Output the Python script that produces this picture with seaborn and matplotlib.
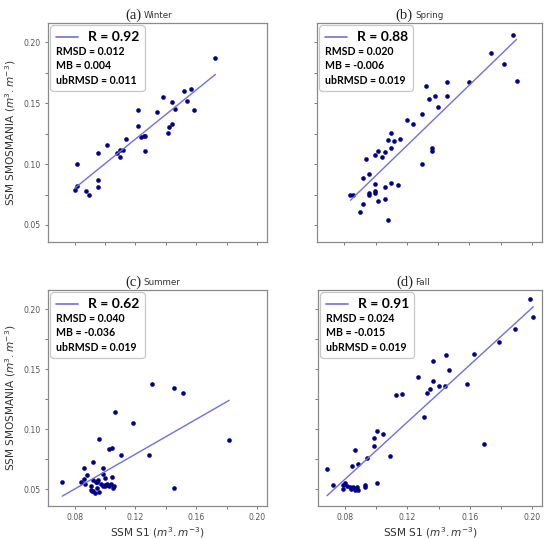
import numpy as np
import pandas as pd
import seaborn as sns
import matplotlib
matplotlib.use('Agg')
import matplotlib.pyplot as plt
from matplotlib.ticker import MultipleLocator, FuncFormatter
from matplotlib.offsetbox import AnchoredOffsetbox, VPacker, HPacker, TextArea, DrawingArea
from matplotlib.lines import Line2D

# values
winter_s1 = [0.0800, 0.0813, 0.0813, 0.0874, 0.0896, 0.0952, 0.0952, 0.0952, 0.1015, 0.1076,
             0.1096, 0.1096, 0.1120, 0.1139, 0.1217, 0.1217, 0.1235, 0.1254, 0.1263, 0.1261,
             0.1341, 0.1378, 0.1417, 0.1422, 0.1441, 0.1441, 0.1459, 0.1522, 0.1541, 0.1563,
             0.1583, 0.1726]
winter_smos = [0.0786, 0.0819, 0.0997, 0.0777, 0.0750, 0.1091, 0.0868, 0.0810, 0.1159, 0.1088,
               0.1118, 0.1058, 0.1113, 0.1209, 0.1442, 0.1310, 0.1222, 0.1228, 0.1231, 0.1110,
               0.1429, 0.1549, 0.1256, 0.1302, 0.1511, 0.1330, 0.1453, 0.1602, 0.1522, 0.1621,
               0.1442, 0.1871]

spring_s1 = [0.0839, 0.0856, 0.0899, 0.0919, 0.0919, 0.0938, 0.0960, 0.0960, 0.0960, 0.0998,
             0.0998, 0.0998, 0.0998, 0.1018, 0.1018, 0.1039, 0.1059, 0.1059, 0.1059, 0.1078,
             0.1078, 0.1098, 0.1098, 0.1098, 0.1119, 0.1141, 0.1158, 0.1199, 0.1238, 0.1298,
             0.1298, 0.1322, 0.1339, 0.1359, 0.1359, 0.1380, 0.1400, 0.1458, 0.1458, 0.1598,
             0.1741, 0.1821, 0.1879, 0.1902]
spring_smos = [0.0750, 0.0750, 0.0610, 0.0670, 0.0882, 0.1041, 0.0920, 0.0763, 0.0743, 0.1071,
               0.0838, 0.0780, 0.0764, 0.1110, 0.0698, 0.1060, 0.1101, 0.0810, 0.0717, 0.1198,
               0.0541, 0.1258, 0.1129, 0.0841, 0.1190, 0.0832, 0.1209, 0.1363, 0.1327, 0.1409,
               0.1000, 0.1640, 0.1533, 0.1135, 0.1110, 0.1560, 0.1470, 0.1673, 0.1560, 0.1673,
               0.1912, 0.1821, 0.2063, 0.1681]

summer_s1 = [0.0719, 0.0844, 0.0861, 0.0870, 0.0861, 0.0879, 0.0905, 0.0909, 0.0914, 0.0922,
             0.0922, 0.0922, 0.0931, 0.0942, 0.0949, 0.0949, 0.0957, 0.0960, 0.0962, 0.0975,
             0.0986, 0.0986, 0.0986, 0.0997, 0.0997, 0.1003, 0.1010, 0.1012, 0.1023, 0.1023,
             0.1036, 0.1043, 0.1045, 0.1054, 0.1058, 0.1064, 0.1106, 0.1187, 0.1290, 0.1309,
             0.1451, 0.1451, 0.1513, 0.1816]
summer_smos = [0.0560, 0.0562, 0.0585, 0.0547, 0.0679, 0.0618, 0.0497, 0.0530, 0.0484, 0.0481,
               0.0574, 0.0728, 0.0470, 0.0561, 0.0508, 0.0558, 0.0574, 0.0920, 0.0475, 0.0547,
               0.0525, 0.0629, 0.0673, 0.0536, 0.0591, 0.0525, 0.0547, 0.0539, 0.0530, 0.0833,
               0.0541, 0.0841, 0.0602, 0.0508, 0.0530, 0.1143, 0.0789, 0.1052, 0.0783, 0.1374,
               0.1341, 0.0511, 0.1302, 0.0912]

fall_s1 = [0.0683, 0.0722, 0.0783, 0.0800, 0.0787, 0.0813, 0.0830, 0.0839, 0.0852, 0.0861,
           0.0874, 0.0882, 0.0925, 0.0925, 0.1003, 0.0843, 0.0882, 0.0865, 0.0943, 0.0986,
           0.0986, 0.1003, 0.1046, 0.1085, 0.1129, 0.1163, 0.1265, 0.1304, 0.1325, 0.1345,
           0.1364, 0.1366, 0.1405, 0.1444, 0.1446, 0.1464, 0.1585, 0.1630, 0.1689, 0.1790,
           0.1890, 0.1991, 0.2009]
fall_smos = [0.0672, 0.0532, 0.0538, 0.0549, 0.0505, 0.0527, 0.0522, 0.0500, 0.0516, 0.0494,
             0.0516, 0.0494, 0.0532, 0.0516, 0.0549, 0.0692, 0.0714, 0.0823, 0.0757, 0.0862,
             0.0927, 0.0982, 0.0960, 0.0774, 0.1281, 0.1290, 0.1432, 0.1103, 0.1303, 0.1333,
             0.1572, 0.1405, 0.1364, 0.1364, 0.1616, 0.1493, 0.1375, 0.1627, 0.0873, 0.1726,
             0.1833, 0.2085, 0.1937]

letters = ['(a)', '(b)', '(c)', '(d)']
seasons = ['Winter', 'Spring', 'Summer', 'Fall']
r_vals = [0.92, 0.88, 0.62, 0.91]
rmsd_vals = [0.012, 0.020, 0.040, 0.024]
mb_vals = [0.004, -0.006, -0.036, -0.015]
ubrmsd_vals = [0.011, 0.019, 0.019, 0.019]

xs = [winter_s1, spring_s1, summer_s1, fall_s1]
ys = [winter_smos, spring_smos, summer_smos, fall_smos]

DOT_C = '#00008b'
LINE_C = '#6f6fe4'

sns.set_style('ticks')

fig, axes = plt.subplots(2, 2, figsize=(5.5, 5.39), dpi=100, sharex=True, sharey=True)
axes = axes.ravel()

W, H = 550, 539
boxes = [(48, 23, 267, 242), (317, 23, 542, 242), (48, 290, 267, 506), (318, 290, 542, 506)]


def every_other(step):
    def fmt(v, pos):
        k = int(round(v / step))
        return f'{v:.2f}' if k % 2 == 0 else ''
    return FuncFormatter(fmt)


def stats_box(ax, r, rmsd, mb, ub):
    bold = dict(family='Lato', fontweight='bold', color='black')
    da = DrawingArea(16, 8, 0, 0)
    da.add_artist(Line2D([0, 16], [4, 4], color=LINE_C, lw=1.2))
    head = HPacker(children=[da, TextArea(f'R = {r:.2f}', textprops=dict(fontsize=10, **bold))],
                   sep=7, align='center', pad=0)
    rows = [TextArea(f'RMSD = {rmsd:.3f}', textprops=dict(fontsize=7.6, **bold)),
            TextArea(f'MB = {mb:.3f}', textprops=dict(fontsize=7.6, **bold)),
            TextArea(f'ubRMSD = {ub:.3f}', textprops=dict(fontsize=7.6, **bold))]
    pack = VPacker(children=[head] + rows, sep=2.4, align='left', pad=0)
    ab = AnchoredOffsetbox(loc='upper left', child=pack, pad=0.3, borderpad=0.25, frameon=True)
    ab.patch.set_boxstyle('round,pad=0.1,rounding_size=0.25')
    ab.patch.set_edgecolor('#c8c8c8')
    ab.patch.set_linewidth(0.9)
    ab.patch.set_facecolor('white')
    ax.add_artist(ab)


for i, ax in enumerate(axes):
    df = pd.DataFrame({'s1': xs[i], 'smos': ys[i]})
    sns.regplot(data=df, x='s1', y='smos', ax=ax, ci=None, truncate=True,
                scatter_kws=dict(s=11, color=DOT_C, linewidths=0, alpha=1),
                line_kws=dict(color=LINE_C, lw=1.0))
    l, t, r, b = boxes[i]
    ax.set_position([l / W, 1 - b / H, (r - l) / W, (b - t) / H])

    ax.set_xlim(0.0625, 0.2065)
    ax.set_ylim(0.036, 0.216)
    ax.xaxis.set_major_locator(MultipleLocator(0.02))
    ax.yaxis.set_major_locator(MultipleLocator(0.025))
    ax.xaxis.set_major_formatter(every_other(0.02))
    ax.yaxis.set_major_formatter(every_other(0.025))
    ax.tick_params(length=2.5, width=0.7, color='#777777', labelsize=5.6,
                   labelcolor='#555555', pad=2.5)
    for sp in ax.spines.values():
        sp.set_color('#8a8a8a')
        sp.set_linewidth(0.9)

    ax.set_xlabel('')
    ax.set_ylabel('')
    if i >= 2:
        ax.set_xlabel('SSM S1 ($m^3.m^{-3}$)', fontsize=7.6, color='#333333', labelpad=2)
    if i % 2 == 0:
        ax.set_ylabel('SSM SMOSMANIA ($m^3.m^{-3}$)', fontsize=7.6, color='#333333', labelpad=4)

    ax.text(0.425, 1.004, letters[i], transform=ax.transAxes, ha='right', va='bottom',
            family='Liberation Serif', fontsize=10.5, color='#222222')
    ax.text(0.435, 1.012, seasons[i], transform=ax.transAxes, ha='left', va='bottom',
            fontsize=6.3, color='#333333')

    stats_box(ax, r_vals[i], rmsd_vals[i], mb_vals[i], ubrmsd_vals[i])

fig.savefig('out.png', dpi=100)
